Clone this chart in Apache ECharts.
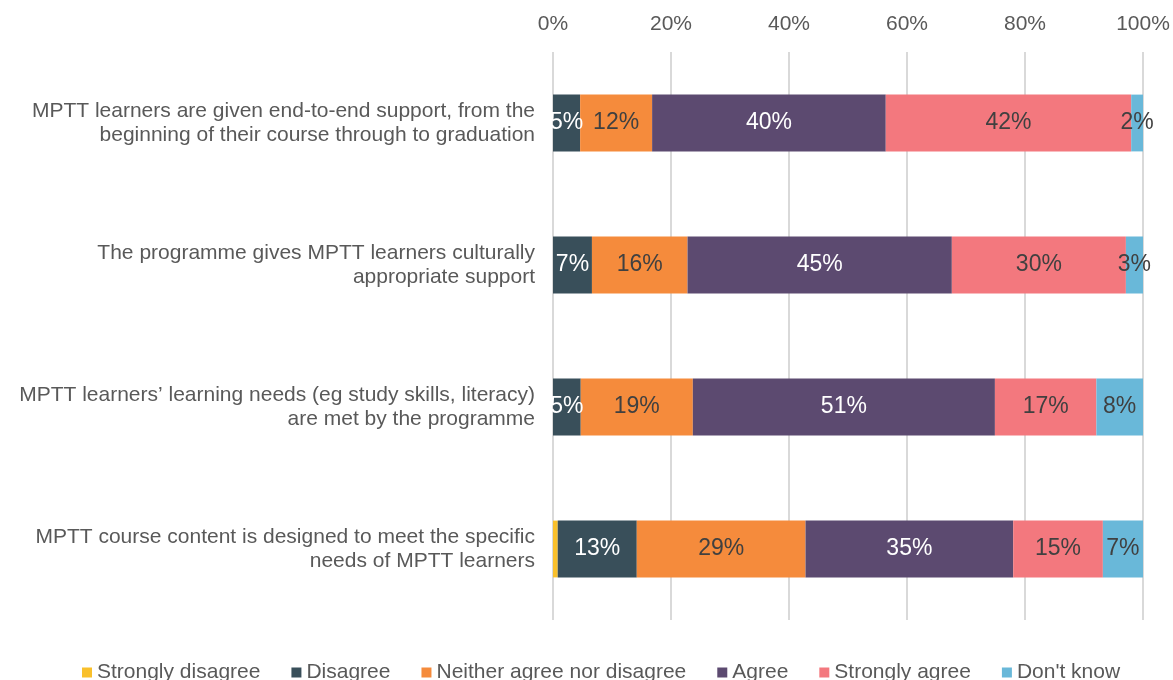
<!DOCTYPE html>
<html><head><meta charset="utf-8">
<script src="https://cdn.jsdelivr.net/npm/echarts@6/dist/echarts.min.js"></script>
<style>html,body{margin:0;padding:0;background:#fff}#c{width:1173px;height:680px}</style>
</head><body><div id="c"></div>
<script>
const categories = [
  "MPTT learners are given end-to-end support, from the\nbeginning of their course through to graduation",
  "The programme gives MPTT learners culturally\nappropriate support",
  "MPTT learners\u2019 learning needs (eg study skills, literacy)\nare met by the programme",
  "MPTT course content is designed to meet the specific\nneeds of MPTT learners"
];
const seriesNames = ["Strongly disagree","Disagree","Neither agree nor disagree","Agree","Strongly agree","Don't know"];
const stronglyDisagree = [0, 0, 0, 0.8];
const disagree = [4.6, 6.6, 4.7, 13.4];
const neither = [12.2, 16.2, 19.0, 28.6];
const agree = [39.6, 44.8, 51.2, 35.2];
const stronglyAgree = [41.6, 29.5, 17.2, 15.2];
const dontKnow = [2.0, 2.9, 7.9, 6.8];
const tickLabels = ["0%","20%","40%","60%","80%","100%"];

const colors = ["#F9C02B","#394F5A","#F58B3C","#5C4A70","#F3787E","#69B8D9"];
const labelColors = ["#404040","#ffffff","#404040","#ffffff","#404040","#404040"];
const allData = [stronglyDisagree, disagree, neither, agree, stronglyAgree, dontKnow];
const font = "'Liberation Sans', Arial, sans-serif";

const chart = echarts.init(document.getElementById('c'));
chart.setOption({
  animation: false,
  color: colors,
  grid: {left: 553, right: 30, top: 52, bottom: 60, containLabel: false},
  legend: {
    top: 662, left: 82, itemWidth: 10, itemHeight: 10, itemGap: 31,
    icon: 'rect', padding: 0,
    textStyle: {fontFamily: font, fontSize: 21, color: '#595959'},
    data: seriesNames
  },
  xAxis: {
    type: 'value', position: 'top', min: 0, max: 100, interval: 20,
    axisLine: {show: false}, axisTick: {show: false},
    splitLine: {lineStyle: {color: '#d9d9d9', width: 2}},
    axisLabel: {fontFamily: font, fontSize: 21, color: '#595959', margin: 17,
      formatter: v => tickLabels[v/20]}
  },
  yAxis: {
    type: 'category', inverse: true, data: categories,
    axisLine: {show: false}, axisTick: {show: false},
    axisLabel: {fontFamily: font, fontSize: 21, color: '#595959', margin: 18, lineHeight: 24, align: 'right'}
  },
  series: seriesNames.map((n, i) => ({
    name: n, type: 'bar', stack: 'total', barWidth: '40%',
    data: allData[i],
    label: {
      show: i !== 0, position: 'inside', fontFamily: font, fontSize: 23,
      color: labelColors[i],
      formatter: p => Math.round(p.value) + '%'
    }
  }))
});
</script></body></html>
